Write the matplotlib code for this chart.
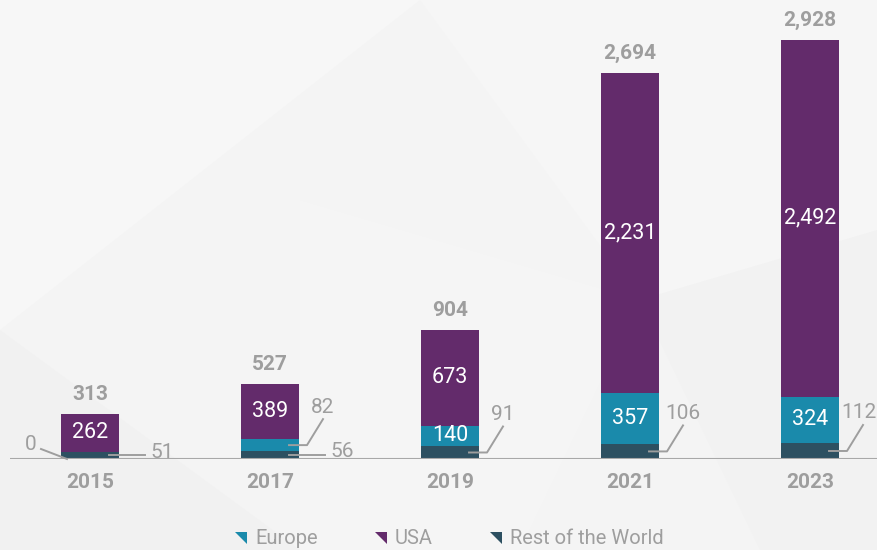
import matplotlib
matplotlib.use("Agg")
import matplotlib.pyplot as plt
from matplotlib.patches import Polygon
from matplotlib.lines import Line2D

# ---- data ----
years = ["2015", "2017", "2019", "2021", "2023"]
rest_of_world = [51, 56, 91, 106, 112]
europe = [0, 82, 140, 357, 324]
usa = [262, 389, 673, 2231, 2492]
totals = [313, 527, 904, 2694, 2928]
series_names = ["Europe", "USA", "Rest of the World"]

# ---- style ----
C_USA = "#632b6b"
C_EU = "#1a8aab"
C_ROW = "#2d5061"
GRAY = "#9e9e9e"
BG = "#f4f4f4"
plt.rcParams["font.family"] = ["Roboto", "DejaVu Sans"]

W, H = 878, 550
fig = plt.figure(figsize=(W / 100, H / 100), dpi=100, facecolor=BG)

# faint geometric background
bg = fig.add_axes([0, 0, 1, 1], zorder=-10)
bg.set_xlim(0, W); bg.set_ylim(H, 0); bg.axis("off")
shapes = [
    ([(0, 0), (420, 0), (0, 330)], "#f7f7f7"),
    ([(420, 0), (878, 0), (878, 230), (640, 300)], "#f6f6f6"),
    ([(0, 330), (300, 550), (0, 550)], "#f1f1f1"),
    ([(640, 300), (878, 230), (878, 550), (760, 550)], "#f2f2f2"),
    ([(300, 200), (640, 300), (520, 550), (300, 550)], "#f5f5f5"),
]
for pts, c in shapes:
    bg.add_patch(Polygon(pts, closed=True, facecolor=c, edgecolor="none"))

# main axes: baseline at y=459px, x positions 90 + 180*i px
base_px = 459
ax = fig.add_axes([0, (H - base_px) / H, 1, base_px / H])
ax.patch.set_alpha(0)
x = list(range(len(years)))
ax.set_xlim(-0.5, (W - 90) / 180)
ymax = totals[-1] * base_px / (base_px - 40)
ax.set_ylim(0, ymax)
ax.axis("off")

bw = 58 / 180
ax.bar(x, rest_of_world, width=bw, color=C_ROW, zorder=3)
b_eu = [r for r in rest_of_world]
ax.bar(x, europe, width=bw, bottom=b_eu, color=C_EU, zorder=3)
b_usa = [r + e for r, e in zip(rest_of_world, europe)]
ax.bar(x, usa, width=bw, bottom=b_usa, color=C_USA, zorder=3)

# baseline
ax.plot([(10 - 90) / 180, (W - 90) / 180], [0, 0], color="#a8a8a8", lw=1.5,
        zorder=4, solid_capstyle="butt")

fig.canvas.draw()
T = ax.transData.transform

def to_px(xd, yd):
    dx, dy = T((xd, yd))
    return dx, dy

# totals and year labels
for i in x:
    px, py = to_px(i, totals[i])
    fig.text(px / W, (py + 10) / H, f"{totals[i]:,}", ha="center", va="bottom",
             fontsize=15, fontweight="bold", color=GRAY)
    px, py = to_px(i, 0)
    fig.text(px / W, (py - 24) / H, years[i], ha="center", va="center",
             fontsize=15, fontweight="bold", color=GRAY)

# inside labels
def inside(i, val, bottom):
    px, py = to_px(i, bottom + val / 2)
    fig.text(px / W, py / H, f"{val:,}", ha="center", va="center",
             fontsize=15.5, color="white")

for i in x:
    inside(i, usa[i], b_usa[i])
    if europe[i] >= 100:
        inside(i, europe[i], b_eu[i])

# outside labels with leader lines
def leader(i, val, bottom, kind, shift=0):
    xr = i + bw / 2
    px, py = to_px(xr, bottom + val / 2)
    if kind == "flat":      # horizontal to the right
        pts = [(px - 10, py), (px + 26, py)]
        tx, ty, ha = px + 31, py + 3, "left"
    elif kind == "diag":    # short horizontal, diagonal up-right
        pts = [(px - 10, py), (px + 8, py), (px + 24, py + 26)]
        tx, ty, ha = px + 24 - shift, py + 38, "center"
    else:                   # "left": from bar left bottom to label on left
        pl, _ = to_px(i - bw / 2, 0)
        by = to_px(0, 0)[1]
        pts = [(pl + 6, by), (pl - 20, by + 10)]
        tx, ty, ha = pl - 24, by + 14, "right"
    fig.add_artist(Line2D([p[0] / W for p in pts], [p[1] / H for p in pts],
                          color=GRAY, lw=1.4, zorder=5))
    fig.text(tx / W, ty / H, f"{val:,}", ha=ha, va="center", fontsize=15,
             color=GRAY)

leader(0, europe[0], b_eu[0], "left")
leader(0, rest_of_world[0], 0, "flat")
leader(1, europe[1], b_eu[1], "diag")
leader(1, rest_of_world[1], 0, "flat")
leader(2, rest_of_world[2], 0, "diag")
leader(3, rest_of_world[3], 0, "diag")
leader(4, rest_of_world[4], 0, "diag", shift=4)

# legend
leg_colors = [C_EU, C_USA, C_ROW]
leg_x = [235, 375, 490]
ly = 538
for name, c, lx in zip(series_names, leg_colors, leg_x):
    tri = [(lx, ly - 6), (lx + 12, ly - 6), (lx + 12, ly + 6)]
    fig.add_artist(Polygon([(p[0] / W, 1 - p[1] / H) for p in tri], closed=True,
                           transform=fig.transFigure, facecolor=c,
                           edgecolor="none"))
    fig.text((lx + 20) / W, 1 - ly / H, name, ha="left", va="center",
             fontsize=14.5, color=GRAY)

fig.savefig("out.png", dpi=100, facecolor=BG)
